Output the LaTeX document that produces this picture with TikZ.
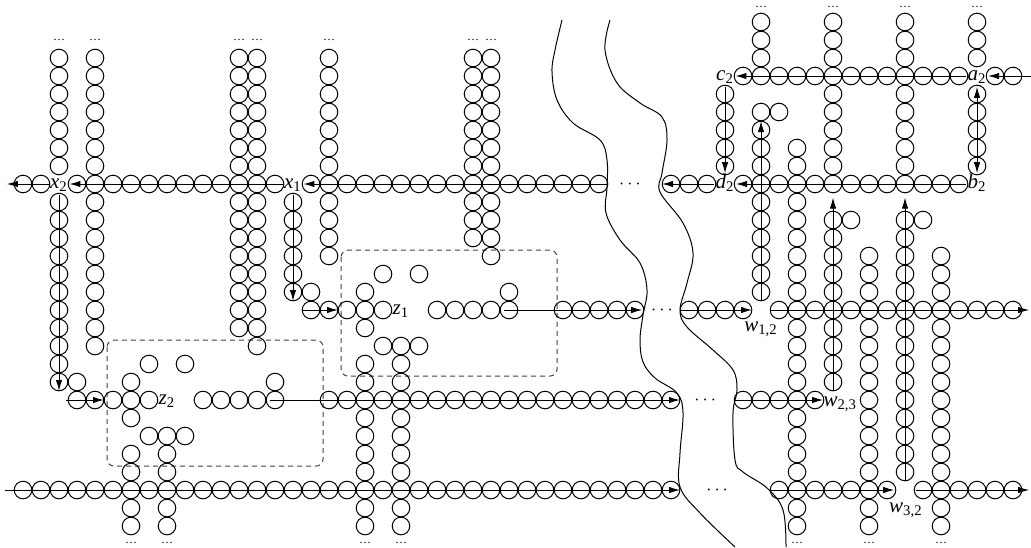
\documentclass[tikz,border=0pt]{standalone}
\usepackage{fontspec}
\setmainfont{Liberation Serif}
\usetikzlibrary{arrows.meta}
\newcommand{\crow}[2]{\foreach \i in {#2} {\node[cir] (c-\i-#1) at (\i,#1) {};}}
\newcommand{\ccol}[2]{\foreach \j in {#2} {\node[cir] (c-#1-\j) at (#1,\j) {};}}
\newcommand{\lab}[2]{\textit{#1}\textsubscript{#2}}
\begin{document}
\begin{tikzpicture}[x=9pt,y=-9pt,
  cir/.style={circle,draw,line width=0.5pt,minimum size=8.8pt,inner sep=0pt},
  lbl/.style={inner sep=0.6pt,text height=1.5ex,text depth=0.5ex,font=\fontsize{10.5}{12}\selectfont},
  arr/.style={line width=0.5pt,-{Latex[length=5.5pt,width=3.2pt]}},
  darr/.style={line width=0.5pt,{Latex[length=5.5pt,width=3.2pt]}-{Latex[length=5.5pt,width=3.2pt]}},
  river/.style={line width=0.5pt},
  zone/.style={draw=black!75,line width=0.5pt,dash pattern=on 2.5pt off 2pt,rounded corners=3.5pt},
  rdots/.style={font=\fontsize{9}{10}\selectfont,inner sep=0pt},
  cdots/.style={font=\fontsize{6}{7}\selectfont,inner sep=0pt}]
\useasboundingbox (-0.2778,-0.2222) rectangle (57,30.1667);

% dashed zones
\draw[zone] (18.67,13.67) rectangle (30.67,20.67);
\draw[zone] (5.67,18.67) rectangle (17.67,25.67);

% rows
\crow{10}{1,2,4,5,...,15,17,18,...,33,37,38,39,41,42,...,53}
\crow{4}{41,42,...,53,55,56}
\crow{17}{17,18,...,21,24,25,...,28,31,32,...,35,38,39,40,41,43,44,...,56}
\crow{22}{4,5,...,8,11,12,...,15,18,19,...,37,41,42,...,45}
\crow{27}{1,2,...,37,43,44,...,49,51,52,...,56}

% columns
\ccol{3}{3,4,...,9,11,12,...,21}
\ccol{5}{3,4,...,9,11,12,...,19}
\ccol{13}{3,4,...,9,11,12,...,18}
\ccol{14}{3,4,...,9,11,12,...,19}
\ccol{16}{11,12,...,16}
\ccol{18}{3,4,...,9,11,12,13,14}
\ccol{26}{3,4,...,9,11,12,13}
\ccol{27}{3,4,...,9,11,12,13,14}
\ccol{7}{21,23,25,26,28,29}
\ccol{9}{25,26,28,29}
\ccol{20}{16,18,20,21,23,24,25,26,28,29}
\ccol{22}{19,20,21,23,24,25,26,28,29}
\ccol{40}{5,6,...,9}
\ccol{42}{1,2,3,6,7,8,9,11,12,...,16}
\ccol{44}{8,9,11,12,...,16,18,19,20,21,23,24,25,26,28,29}
\ccol{46}{1,2,3,5,6,...,9,12,13,...,16,18,19,20,21}
\ccol{48}{14,15,16,18,19,...,26,28,29}
\ccol{50}{1,2,3,5,6,...,9,12,13,...,16,18,19,...,26}
\ccol{52}{14,15,16,18,19,...,26,28,29}
\ccol{54}{1,2,3,5,6,...,9}

% single circles
\foreach \p/\q in {4/21,8/20,10/20,8/24,9/24,10/24,15/21,17/16,21/15,23/15,21/19,23/19,28/16,43/6,47/12,51/12}
  {\node[cir] (c-\p-\q) at (\p,\q) {};}

% dots at column ends
\foreach \i in {3,5,13,14,18,26,27} {\node[cdots] (t-\i) at (\i,2) {\ldots};}
\foreach \i in {42,46,50,54} {\node[cdots] (t-\i) at (\i,0.17) {\ldots};}
\foreach \i in {7,9,20,22,44,48,52} {\node[cdots] (b-\i) at (\i,29.94) {\ldots};}

% dots on rows
\node[rdots] (dA) at (34.72,10) {$\cdots$};
\node[rdots] (dB) at (36.5,17) {$\cdots$};
\node[rdots] (dC) at (38.9,22) {$\cdots$};
\node[rdots] (dD) at (39.56,27) {$\cdots$};

% labels
\node[lbl] (x2) at (3,10) {\lab{x}{2}};
\node[lbl] (x1) at (16,10) {\lab{x}{1}};
\node[lbl] (z1) at (22,17) {\lab{z}{1}};
\node[lbl] (z2) at (9,22) {\lab{z}{2}};
\node[lbl] (c2) at (40,4) {\lab{c}{2}};
\node[lbl] (a2) at (54,4) {\lab{a}{2}};
\node[lbl] (d2) at (40,10) {\lab{d}{2}};
\node[lbl] (b2) at (54,10) {\lab{b}{2}};
\node[lbl] (w12) at (42,17.95) {\lab{w}{1,2}};
\node[lbl] (w23) at (46.4,22.1) {\lab{w}{2,3}};
\node[lbl] (w32) at (50.05,28) {\lab{w}{3,2}};

% free ends
\coordinate (eA1) at (0.1,10);
\coordinate (eA2) at (33.5,10);
\coordinate (eA3) at (36.5,10);
\coordinate (eT) at (57,4);
\coordinate (eX1) at (16,16.5);
\coordinate (eB1) at (16.5,17);
\coordinate (eB2) at (18.5,17);
\coordinate (eB3) at (27.7,17);
\coordinate (eB4) at (35.4,17);
\coordinate (eB5) at (37.5,17);
\coordinate (eB6) at (41.5,17);
\coordinate (eB7) at (42.5,17);
\coordinate (eB8) at (56.9,17);
\coordinate (eX2) at (3,21.5);
\coordinate (eC1) at (3.4,22);
\coordinate (eC2) at (5.5,22);
\coordinate (eC3) at (14.7,22);
\coordinate (eC4) at (37.5,22);
\coordinate (eC5) at (40.5,22);
\coordinate (eC6) at (45.45,22);
\coordinate (eD1) at (0,27);
\coordinate (eD2) at (37.5,27);
\coordinate (eD3) at (42.5,27);
\coordinate (eD4) at (49.4,27);
\coordinate (eD5) at (50.6,27);
\coordinate (eD6) at (56.9,27);
\coordinate (v42a) at (42,16.5);
\coordinate (v42b) at (42,6.5);
\coordinate (v46a) at (46,21.5);
\coordinate (v46b) at (46,10.75);
\coordinate (v50a) at (50,26.5);
\coordinate (v50b) at (50,10.75);

% arrows
\draw[arr] (eT) -- (a2);
\draw[arr] (a2) -- (c2);
\draw[arr] (c2) -- (d2);
\draw[darr] (a2) -- (b2);
\draw[arr] (b2) -- (d2);
\draw[arr] (d2) -- (eA3);
\draw[arr] (eA2) -- (x1);
\draw[arr] (x1) -- (x2);
\draw[arr] (x2) -- (eA1);
\draw[arr] (x1) -- (eX1);
\draw[arr] (eB1) -- (eB2);
\draw[arr] (eB3) -- (eB4);
\draw[arr] (eB5) -- (eB6);
\draw[arr] (eB7) -- (eB8);
\draw[arr] (x2) -- (eX2);
\draw[arr] (eC1) -- (eC2);
\draw[arr] (eC3) -- (eC4);
\draw[arr] (eC5) -- (eC6);
\draw[arr] (eD1) -- (eD2);
\draw[arr] (eD3) -- (eD4);
\draw[arr] (eD5) -- (eD6);
\draw[arr] (v42a) -- (v42b);
\draw[arr] (v46a) -- (v46b);
\draw[arr] (v50a) -- (v50b);

% rivers (pixel coordinates)
\begin{scope}[shift={(-0.2778,-0.2222)},x=0.5pt,y=-0.5pt]
\draw[river] plot[smooth,tension=0.6] coordinates {(562,20) (555,50) (552,72) (557,100) (573,123) (600,140) (607,160) (607,187) (606,213) (620,240) (640,263) (647,290) (643,315) (640,340) (643,362) (655,378) (677,393) (683,413) (680,453) (680,487) (700,513) (735,547)};
\draw[river] plot[smooth,tension=0.6] coordinates {(610,20) (605,50) (617,83) (640,103) (662,117) (667,140) (662,173) (660,192) (683,223) (693,253) (687,283) (680,310) (687,327) (713,350) (733,370) (737,390) (733,413) (735,460) (743,472) (767,488) (783,510) (786,547)};
\end{scope}
\end{tikzpicture}
\end{document}
